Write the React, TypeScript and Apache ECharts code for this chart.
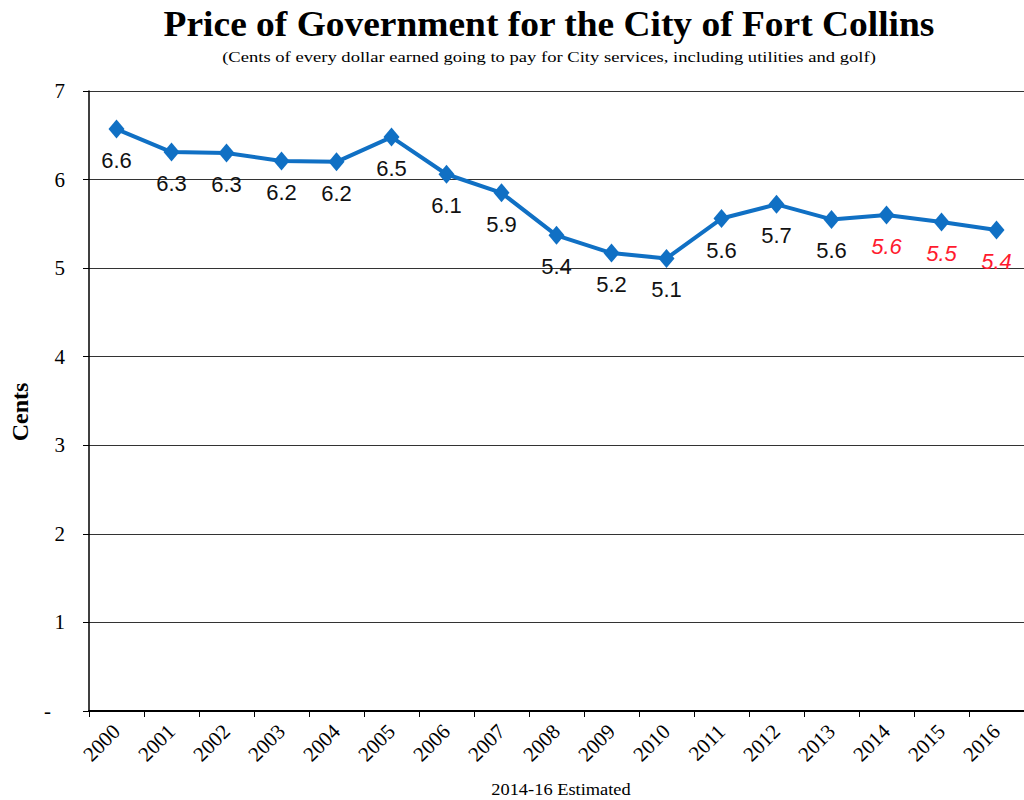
import React, { useEffect, useRef } from "react";
import * as echarts from "echarts";

const years = ["2000","2001","2002","2003","2004","2005","2006","2007","2008","2009","2010","2011","2012","2013","2014","2015","2016"];
const cents = [6.57, 6.31, 6.30, 6.21, 6.20, 6.48, 6.06, 5.85, 5.37, 5.17, 5.11, 5.56, 5.72, 5.55, 5.60, 5.52, 5.43];
const centLabels = ["6.6","6.3","6.3","6.2","6.2","6.5","6.1","5.9","5.4","5.2","5.1","5.6","5.7","5.6","5.6","5.5","5.4"];
const estimatedYears = ["2014", "2015", "2016"];

const titleText = "Price of Government for the City of Fort Collins";
const subtitleText = "(Cents of every dollar earned going to pay for City services, including utilities and golf)";
const yAxisName = "Cents";
const footnote = "2014-16 Estimated";

const SERIF = '"Liberation Serif", "Times New Roman", serif';
const SANS = '"Liberation Sans", Arial, sans-serif';

export default function App() {
  const ref = useRef<HTMLDivElement>(null);
  useEffect(() => {
    if (!ref.current) return;
    const chart = echarts.init(ref.current, null, { renderer: "svg" });
    const data = cents.map((v, i) => {
      const est = estimatedYears.includes(years[i]);
      return {
        value: v,
        label: {
          formatter: centLabels[i],
          color: est ? "#FF1A2E" : "#111",
          fontStyle: est ? "italic" : "normal",
        },
      };
    });
    chart.setOption({
      animation: false,
      backgroundColor: "#fff",
      graphic: [
        {
          type: "text",
          x: 549,
          y: 24,
          scaleX: 1.07,
          style: {
            text: titleText,
            font: `bold 35px ${SERIF}`,
            fill: "#000",
            textAlign: "center",
            textVerticalAlign: "middle",
          },
        },
        {
          type: "text",
          x: 549,
          y: 57,
          scaleX: 1.24,
          style: {
            text: subtitleText,
            font: `15px ${SERIF}`,
            fill: "#000",
            textAlign: "center",
            textVerticalAlign: "middle",
          },
        },
        {
          type: "text",
          x: 20,
          y: 412,
          rotation: Math.PI / 2,
          style: {
            text: yAxisName,
            font: `bold 24px ${SERIF}`,
            fill: "#000",
            textAlign: "center",
            textVerticalAlign: "middle",
          },
        },
        {
          type: "text",
          x: 561,
          y: 790,
          scaleX: 1.15,
          style: {
            text: footnote,
            font: `16px ${SERIF}`,
            fill: "#000",
            textAlign: "center",
            textVerticalAlign: "middle",
          },
        },
      ],
      grid: { left: 89, right: -14, top: 91, bottom: 89, containLabel: false },
      xAxis: {
        type: "category",
        data: years,
        boundaryGap: true,
        axisLine: { show: true, lineStyle: { color: "#000", width: 2 } },
        axisTick: { show: true, alignWithLabel: false, inside: false, length: 6, lineStyle: { color: "#000", width: 1 } },
        axisLabel: {
          interval: 0,
          rotate: 45,
          margin: 17,
          fontFamily: SERIF,
          fontSize: 21,
          color: "#000",
        },
        splitLine: { show: false },
      },
      yAxis: {
        type: "value",
        min: 0,
        max: 7,
        interval: 1,
        axisLine: { show: true, lineStyle: { color: "#000", width: 1.5 } },
        axisTick: { show: true, inside: false, length: 6, lineStyle: { color: "#000" } },
        axisLabel: {
          margin: 24,
          fontFamily: SERIF,
          fontSize: 21,
          color: "#000",
          formatter: (v: number) => (v === 0 ? "{dash|-}" : String(v)),
          rich: {
            dash: { fontFamily: SERIF, fontSize: 21, color: "#000", padding: [0, 14, 0, 0] },
          },
        },
        splitLine: { show: true, lineStyle: { color: "#333", width: 1.2 } },
      },
      series: [
        {
          type: "line",
          data,
          symbol: "diamond",
          symbolSize: [16, 19],
          lineStyle: { color: "#1070C4", width: 4 },
          itemStyle: { color: "#1070C4" },
          label: {
            show: true,
            position: "bottom",
            distance: 11,
            fontFamily: SANS,
            fontSize: 22,
          },
        },
      ],
    });
    return () => chart.dispose();
  }, []);
  return (
    <div
      ref={ref}
      style={{ position: "absolute", left: 0, top: 0, width: 1024, height: 800, overflow: "hidden" }}
    />
  );
}
